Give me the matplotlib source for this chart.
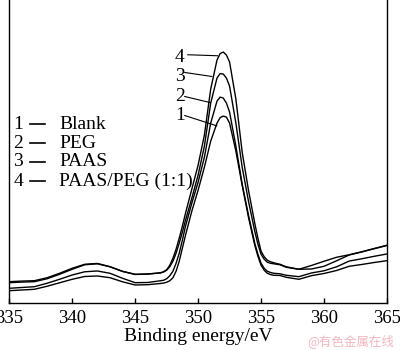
import matplotlib
matplotlib.use("Agg")
import matplotlib.pyplot as plt

plt.rcParams['font.family'] = ['Liberation Serif', 'DejaVu Serif']

# binding energy grid (eV)
energy = [335, 336, 337, 338, 339, 340, 341, 342, 343, 344, 345, 346, 347,
          347.25, 347.5, 347.75, 348, 348.25, 348.5, 348.75, 349,
          349.5, 350, 350.5, 351, 351.5, 351.75, 352, 352.25, 352.5, 353, 353.5, 354, 354.5,
          354.75, 355, 355.25, 355.5, 355.75, 356, 356.5, 357, 358,
          359, 360, 361, 362, 363, 364, 365]

# intensity (arbitrary units) of each curve
blank = [12.6, 13.3, 14, 17, 20.5, 24, 26.8, 27.3, 25.6, 21.5, 18.3, 18.6, 19.8,
         20.2, 21, 22.5, 25.5, 32, 42, 55, 68,
         92, 113, 136, 162, 180, 185.5, 187, 186, 180, 152, 118, 86, 58,
         47, 38, 33, 30, 28.7, 28, 27.8, 26, 24,
         27.6, 29.8, 32.8, 37, 38.8, 40.8, 42.6]
peg = [15, 15.8, 16.6, 20, 24, 28.3, 31.5, 32.3, 30, 25, 20.6, 20.8, 22.5,
       23, 24.5, 27.5, 32, 40, 50, 63, 77,
       100, 121, 146, 180, 202, 206, 205, 200, 191, 157, 119, 88, 60,
       49, 40, 35, 32, 30.8, 30, 29.5, 28, 26.6,
       30.3, 32.5, 36.5, 42.2, 44.5, 47, 49.3]
paas = [20.6, 21.2, 21.6, 24.5, 29, 34, 38.5, 39.5, 36.5, 31.8, 28.8, 29.2, 30.3,
        31.2, 33, 36.5, 42, 50, 60, 71, 83,
        105, 128, 157, 200, 225, 229.5, 229, 225, 217, 180, 136, 102, 72,
        59, 49, 44, 41, 40, 39.5, 38.5, 36, 34,
        34.3, 37, 42.5, 48.3, 51.3, 54.6, 57.8]
paas_peg = [21.6, 22.2, 22.6, 25.5, 30, 35, 39, 39.8, 36.6, 32, 29, 29.3, 30.5,
            31.5, 33.5, 38, 45, 54, 65, 77, 90,
            114, 138, 168, 214, 243, 249.5, 251, 248, 241, 204, 151, 113, 80,
            65, 52, 46.5, 43, 41.5, 40.5, 39, 36.5, 34,
            37.8, 42, 46, 48.5, 51.5, 54.8, 58]

series = [blank, peg, paas, paas_peg]
names = ['Blank', 'PEG', 'PAAS', 'PAAS/PEG (1:1)']
tags = ['1', '2', '3', '4']

# leader lines: label position, line start, line end (data units)
tag_pos = [(348.55, 187.6), (348.55, 206.6), (348.55, 226.6), (348.55, 246)]
lead_start = [(348.94, 187.6), (348.94, 206.6), (348.94, 230.6), (349.18, 248.3)]
lead_end = [(351.48, 177.3), (350.93, 200.6), (351.09, 226.6), (351.54, 247.3)]

fig = plt.figure(figsize=(4, 3.5), dpi=100)
ax = fig.add_axes([0.023, 0.1334, 0.9445, 0.8666])

for y in series:
    ax.plot(energy, y, color='black', lw=1.0)

for t, p, s, e in zip(tags, tag_pos, lead_start, lead_end):
    ax.text(p[0], p[1], t, fontsize=14, ha='center', va='center')
    ax.plot([s[0], e[0]], [s[1], e[1]], color='black', lw=0.8)

# legend drawn by hand: number, short dash, name
row_y = [0.591, 0.5275, 0.466, 0.403]
for t, n, yy in zip(tags, names, row_y):
    ax.text(0.0244, yy, t, transform=ax.transAxes, fontsize=14,
            ha='center', va='center')
    ax.plot([0.0548, 0.094], [yy, yy], transform=ax.transAxes,
            color='black', lw=1.2)
    ax.text(0.132, yy, n, transform=ax.transAxes, fontsize=14,
            ha='left', va='center')

ax.set_xlim(335, 365)
ax.set_ylim(0, 303)
ax.set_xticks([335, 340, 345, 350, 355, 360, 365])
ax.set_yticks([])
ax.tick_params(axis='x', direction='in', length=3.6, width=1.0,
               labelsize=13.5, pad=4.5)
ax.spines['top'].set_visible(False)
for sp in ['left', 'right', 'bottom']:
    ax.spines[sp].set_linewidth(1.0)
ax.set_xlabel('Binding energy/eV', fontsize=14, labelpad=1)

fig.text(0.985, 0.027, '@有色金属在线', color='#f2b6c0', fontsize=9,
         ha='right', va='center',
         family=['Noto Sans CJK SC', 'DejaVu Sans'])

fig.savefig('out.png', dpi=100)
